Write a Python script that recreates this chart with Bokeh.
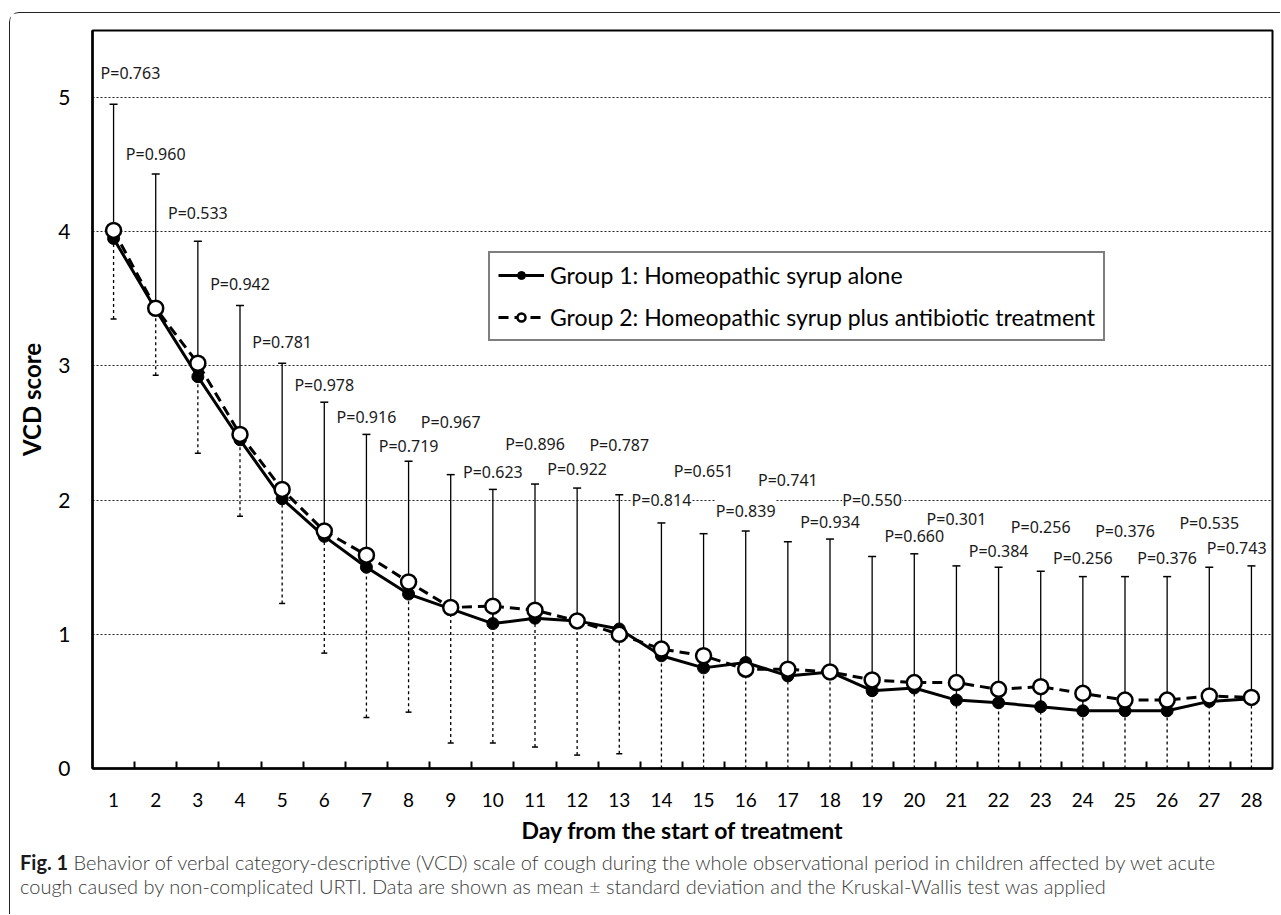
from bokeh.plotting import figure
from bokeh.layouts import column
from bokeh.models import (ColumnDataSource, Whisker, TeeHead, FixedTicker, Legend,
                          LegendItem, LabelSet, Div)
from bokeh.core.properties import value
from bokeh.embed import file_html
from bokeh.resources import INLINE

# ---------------- data ----------------
days = list(range(1, 29))
group1_mean = [3.95, 3.42, 2.92, 2.45, 2.01, 1.73, 1.50, 1.30, 1.19, 1.08, 1.12, 1.10, 1.04, 0.84,
               0.75, 0.79, 0.69, 0.72, 0.58, 0.60, 0.51, 0.49, 0.46, 0.43, 0.43, 0.43, 0.50, 0.52]
group2_mean = [4.01, 3.43, 3.02, 2.49, 2.08, 1.77, 1.59, 1.39, 1.20, 1.21, 1.18, 1.10, 1.00, 0.89,
               0.84, 0.74, 0.74, 0.72, 0.66, 0.64, 0.64, 0.59, 0.61, 0.56, 0.51, 0.51, 0.54, 0.53]
sd_upper = [4.95, 4.43, 3.93, 3.45, 3.02, 2.73, 2.49, 2.29, 2.19, 2.08, 2.12, 2.09, 2.04, 1.83,
            1.75, 1.77, 1.69, 1.71, 1.58, 1.60, 1.51, 1.50, 1.47, 1.43, 1.43, 1.43, 1.50, 1.51]
sd_lower = [3.35, 2.93, 2.35, 1.88, 1.23, 0.86, 0.38, 0.42, 0.19, 0.19, 0.16, 0.10, 0.11, 0.0,
            0.0, 0.0, 0.0, 0.0, 0.0, 0.0, 0.0, 0.0, 0.0, 0.0, 0.0, 0.0, 0.0, 0.0]
p_values = ["0.763", "0.960", "0.533", "0.942", "0.781", "0.978", "0.916", "0.719", "0.967", "0.623",
            "0.896", "0.922", "0.787", "0.814", "0.651", "0.839", "0.741", "0.934", "0.550", "0.660",
            "0.301", "0.384", "0.256", "0.256", "0.376", "0.376", "0.535", "0.743"]
y_ticks = [0, 1, 2, 3, 4, 5]
legend_labels = ["Group 1: Homeopathic syrup alone",
                 "Group 2: Homeopathic syrup plus antibiotic treatment"]
x_title = "Day from the start of treatment"
y_title = "VCD score"
caption_bold = "Fig. 1"
caption_line1 = ("Behavior of verbal category-descriptive (VCD) scale of cough during the whole "
                 "observational period in children affected by wet acute")
caption_line2 = ("cough caused by non-complicated URTI. Data are shown as mean \u00b1 standard "
                 "deviation and the Kruskal-Wallis test was applied")

# ---------------- layout (P-label placement, in data units) ----------------
label_height = [5.18, 4.58, 4.14, 3.61, 3.18, 2.86, 2.62, 2.40, 2.58, 2.21, 2.42, 2.23, 2.41, 2.00,
                2.22, 1.92, 2.15, 1.84, 2.00, 1.73, 1.86, 1.62, 1.80, 1.57, 1.77, 1.57, 1.83, 1.64]
label_nudge = {1: 0.40, 28: -0.35}

W, H = 1270, 837
FL, FR, FT, FB = 82, 1262, 17, 755   # frame in figure px
X0, X1, Y0, Y1 = 0.5, 28.5, 0.0, 5.5
FONT = "Lato"

p = figure(width=W, height=H, x_range=(X0, X1), y_range=(Y0, Y1),
           output_backend="svg", toolbar_location=None,
           min_border_left=FL, min_border_right=W - FR,
           min_border_top=FT, min_border_bottom=H - FB)
p.background_fill_color = "white"
p.border_fill_color = "white"
p.outline_line_color = "black"
p.outline_line_width = 2

# grid
p.xgrid.visible = False
p.ygrid.ticker = FixedTicker(ticks=[t for t in y_ticks if t > 0])
p.ygrid.grid_line_color = "#222222"
p.ygrid.grid_line_dash = "2 2"
p.ygrid.grid_line_width = 1

# axes
half = [d + 0.5 for d in days[:-1]]
p.xaxis.ticker = FixedTicker(ticks=days, minor_ticks=half)
p.xaxis.major_tick_in = 0
p.xaxis.major_tick_out = 0
p.xaxis.minor_tick_in = 7
p.xaxis.minor_tick_out = 0
p.xaxis.minor_tick_line_color = "black"
p.xaxis.minor_tick_line_width = 2
p.xaxis.axis_line_width = 2.5
p.xaxis.axis_line_color = "black"
p.xaxis.major_label_standoff = 24
p.xaxis.major_label_text_font = FONT
p.xaxis.major_label_text_font_size = "19px"
p.xaxis.major_label_text_color = "black"
p.xaxis.axis_label = x_title
p.xaxis.axis_label_text_font = FONT
p.xaxis.axis_label_text_font_style = "bold"
p.xaxis.axis_label_text_font_size = "23px"
p.xaxis.axis_label_text_color = "black"
p.xaxis.axis_label_standoff = 6

p.yaxis.ticker = FixedTicker(ticks=y_ticks)
p.yaxis.major_tick_in = 0
p.yaxis.major_tick_out = 0
p.yaxis.minor_tick_line_color = None
p.yaxis.axis_line_width = 2.5
p.yaxis.axis_line_color = "black"
p.yaxis.major_label_standoff = 22
p.yaxis.major_label_text_font = FONT
p.yaxis.major_label_text_font_size = "21px"
p.yaxis.major_label_text_color = "black"
p.yaxis.axis_label = y_title
p.yaxis.axis_label_text_font = FONT
p.yaxis.axis_label_text_font_style = "bold"
p.yaxis.axis_label_text_font_size = "24px"
p.yaxis.axis_label_text_color = "black"
p.yaxis.axis_label_standoff = 9

src = ColumnDataSource(dict(day=days, g1=group1_mean, g2=group2_mean,
                            up=sd_upper, lo=sd_lower))

# error bars
up_bar = Whisker(source=src, base="day", lower="g1", upper="up", dimension="height",
                 line_color="black", line_width=1.3,
                 upper_head=TeeHead(size=8, line_color="black", line_width=1.5),
                 lower_head=None)
lo_bar = Whisker(source=src, base="day", lower="lo", upper="g2", dimension="height",
                 line_color="black", line_width=1.3, line_dash="3 3",
                 lower_head=TeeHead(size=6, line_color="black", line_width=1.5),
                 upper_head=None)
p.add_layout(up_bar)
p.add_layout(lo_bar)

# series
l1 = p.line("day", "g1", source=src, line_color="black", line_width=3)
l2 = p.line("day", "g2", source=src, line_color="black", line_width=3, line_dash="10 6")
s1 = p.scatter("day", "g1", source=src, size=12, marker="circle",
               fill_color="black", line_color="black")
s2 = p.scatter("day", "g2", source=src, size=15, marker="circle",
               fill_color="white", line_color="black", line_width=2.5)

# P value labels
lsrc = ColumnDataSource(dict(
    x=[d + label_nudge.get(d, 0.0) for d in days],
    y=label_height,
    t=["P=" + v for v in p_values]))
p.add_layout(LabelSet(x="x", y="y", text="t", source=lsrc, text_align="center",
                      text_baseline="middle", text_font=value("Noto Sans"),
                      text_font_size="16px", text_color="#1a1a1a",
                      background_fill_color="white", background_fill_alpha=1.0))

# legend
legend = Legend(items=[LegendItem(label=legend_labels[0], renderers=[l1, s1]),
                       LegendItem(label=legend_labels[1], renderers=[l2, s2])],
                location=(396, 427), orientation="vertical",
                glyph_width=46, glyph_height=20, label_height=20, spacing=14,
                padding=8, margin=0, label_standoff=6,
                label_text_font=FONT, label_text_font_size="23px",
                label_text_color="black",
                border_line_color="black", border_line_width=2,
                background_fill_color="white", background_fill_alpha=1.0)
p.add_layout(legend)

# caption
caption = Div(
    text=(f"<b style='font-weight:700;color:#1a1a1a'>{caption_bold}</b> {caption_line1}<br>"
          f"{caption_line2}"),
    width=1255, height=64, margin=(0, 0, 0, 10),
    styles={"font-family": "Lato", "font-weight": "300", "font-size": "20px",
            "line-height": "24px", "color": "#3a3a3a", "white-space": "nowrap"})

page = column(p, caption, margin=(12, 0, 0, 9), spacing=0,
              styles={"border-top": "1.5px solid #222", "border-left": "1.5px solid #222",
                      "border-top-left-radius": "10px", "background-color": "white"})

open("out.html", "w").write(file_html(page, INLINE))
